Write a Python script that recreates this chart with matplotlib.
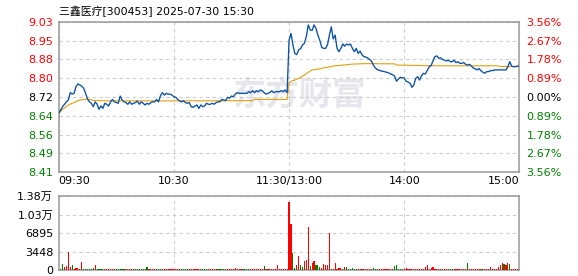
import matplotlib
matplotlib.use("Agg")
import matplotlib.pyplot as plt
import numpy as np

plt.rcParams['font.family'] = ['DejaVu Sans', 'Noto Sans CJK SC']

# price per minute, 09:30 .. 11:30 / 13:00 .. 15:00 (241 points)
price = [
    8.652, 8.666, 8.680, 8.690, 8.700, 8.708, 8.738, 8.732, 8.735, 8.763,
    8.774, 8.770, 8.765, 8.756, 8.735, 8.712, 8.700, 8.694, 8.680, 8.700,
    8.690, 8.669, 8.683, 8.673, 8.694, 8.690, 8.683, 8.700, 8.710, 8.700,
    8.697, 8.694, 8.724, 8.708, 8.700, 8.697, 8.690, 8.700, 8.690, 8.694,
    8.697, 8.703, 8.690, 8.700, 8.694, 8.687, 8.694, 8.690, 8.697, 8.700,
    8.700, 8.710, 8.700, 8.725, 8.738, 8.728, 8.735, 8.732, 8.732, 8.728,
    8.721, 8.719, 8.710, 8.704, 8.700, 8.704, 8.697, 8.694, 8.697, 8.680,
    8.677, 8.683, 8.687, 8.673, 8.687, 8.680, 8.683, 8.694, 8.690, 8.690,
    8.694, 8.690, 8.697, 8.700, 8.700, 8.710, 8.708, 8.705, 8.719, 8.715,
    8.724, 8.721, 8.732, 8.738, 8.735, 8.735, 8.735, 8.735, 8.735, 8.742,
    8.738, 8.746, 8.738, 8.746, 8.742, 8.749, 8.746, 8.738, 8.732, 8.735,
    8.738, 8.746, 8.738, 8.742, 8.742, 8.742, 8.746, 8.742, 8.749, 8.738,
    8.955, 8.983, 8.935, 8.900, 8.895, 8.915, 8.920, 8.935, 8.942, 8.970,
    9.018, 8.997, 8.995, 9.018, 9.004, 8.976, 8.955, 8.925, 8.921, 8.921,
    8.935, 8.975, 9.010, 8.960, 8.976, 8.921, 8.907, 8.921, 8.939, 8.930,
    8.939, 8.935, 8.939, 8.921, 8.907, 8.921, 8.900, 8.910, 8.894, 8.887,
    8.885, 8.881, 8.875, 8.868, 8.850, 8.840, 8.833, 8.830, 8.828, 8.826,
    8.824, 8.822, 8.819, 8.815, 8.812, 8.806, 8.785, 8.795, 8.801, 8.800,
    8.798, 8.785, 8.782, 8.777, 8.760, 8.770, 8.797, 8.804, 8.790, 8.808,
    8.818, 8.815, 8.830, 8.845, 8.850, 8.870, 8.887, 8.890, 8.880, 8.882,
    8.875, 8.872, 8.869, 8.872, 8.866, 8.866, 8.872, 8.862, 8.866, 8.859,
    8.859, 8.862, 8.855, 8.852, 8.855, 8.848, 8.840, 8.836, 8.832, 8.838,
    8.828, 8.822, 8.818, 8.825, 8.825, 8.829, 8.829, 8.832, 8.832, 8.832,
    8.832, 8.832, 8.832, 8.832, 8.845, 8.866, 8.848, 8.845, 8.845, 8.848,
    8.848,
]

# average price line, read at turning points
avg_t = [0, 2, 5, 8, 10, 13, 16, 18, 25, 60, 101, 102, 119, 120, 121, 123,
         125, 128, 130, 132, 135, 138, 140, 143, 148, 153, 160, 175, 176,
         190, 200, 229, 230, 240]
avg_v = [8.652, 8.669, 8.687, 8.697, 8.705, 8.710, 8.710, 8.706, 8.704,
         8.704, 8.705, 8.710, 8.710, 8.780, 8.785, 8.790, 8.797, 8.811,
         8.822, 8.832, 8.835, 8.840, 8.843, 8.848, 8.852, 8.856, 8.858,
         8.857, 8.852, 8.850, 8.849, 8.849, 8.846, 8.846]

# volume per minute and up/down colour
vol = [
    1370, 180, 1120, 500, 800, 3420, 600, 935, 200, 300,
    310, 180, 1500, 180, 180, 180, 180, 180, 370, 935,
    180, 180, 180, 180, 180, 180, 180, 180, 180, 180,
    180, 180, 180, 180, 180, 180, 180, 180, 180, 180,
    180, 180, 180, 180, 180, 180, 560, 180, 180, 180,
    180, 180, 180, 180, 180, 180, 180, 180, 180, 180,
    180, 180, 180, 180, 180, 180, 180, 180, 180, 180,
    180, 180, 180, 180, 180, 180, 180, 180, 180, 180,
    180, 180, 180, 180, 180, 180, 180, 180, 180, 180,
    180, 180, 370, 180, 180, 180, 180, 180, 180, 180,
    180, 180, 180, 180, 180, 180, 180, 750, 180, 180,
    180, 180, 180, 180, 935, 180, 180, 180, 180, 180,
    12780, 8600, 3120, 300, 935, 2620, 935, 560, 1680, 1870,
    8040, 750, 1250, 1680, 935, 935, 560, 370, 1120, 935,
    935, 6920, 280, 180, 1310, 180, 370, 370, 180, 560,
    560, 180, 180, 370, 180, 180, 180, 180, 180, 180,
    180, 180, 180, 180, 370, 180, 180, 180, 180, 180,
    180, 180, 180, 180, 180, 750, 935, 180, 180, 180,
    180, 370, 180, 180, 180, 180, 180, 180, 180, 180,
    180, 560, 935, 180, 370, 560, 180, 180, 180, 180,
    180, 180, 180, 180, 180, 180, 180, 180, 180, 180,
    180, 180, 180, 1310, 180, 180, 180, 180, 180, 180,
    180, 180, 180, 180, 180, 560, 180, 180, 180, 560,
    935, 1310, 1120, 935, 1310, 1120, 180, 180, 180, 180,
    750,
]
vol_dir = ("gggrrrrgrrrrrggggggr" "ggggrrrrrrgggggrrrrr" "gggggggrrrrgggrrrrrr"
           "rrrrggggrrrrrrggggrr" "rrrgggggrrrrrrrrgggg" "rrrrrrrgrrrrrrrrrrrr"
           "rrggrrggrrrgrrgggrrr" "rrgrrrrrgrgggggrrgrr" "rrrrgggrrrrrrrrggggr"
           "rrrrrrrrrrrrrrrrrrrg" "rrrgggrrrrrrrgrrrrrr" "grrrrrrrrrrrgrrgrrrr" "r")

pre_close = 8.72
price_ticks = [8.41, 8.49, 8.56, 8.64, 8.72, 8.80, 8.88, 8.95, 9.03]
pct_labels = ["3.56%", "2.67%", "1.78%", "0.89%", "0.00%", "0.89%", "1.78%", "2.67%", "3.56%"]
time_labels = ["09:30", "10:30", "11:30/13:00", "14:00", "15:00"]
vol_ticks = [0, 3448, 6895, 10343, 13790]
vol_labels = ["0", "3448", "6895", "1.03万", "1.38万"]

RED = "#ff0000"
GREEN = "#008000"
FRAME = "#999999"
GRID = "#cccccc"

fig = plt.figure(figsize=(5.78, 2.76), dpi=100)
ax = fig.add_axes([0.1016, 0.3768, 0.797, 0.5435])
axv = fig.add_axes([0.1016, 0.0217, 0.797, 0.2671])

t = np.arange(len(price))

# main price panel
lo = pre_close - 0.31
hi = pre_close + 0.31
ax.set_xlim(0, 240)
ax.set_ylim(lo, hi)
ax.text(0.376, 0.507, "东方财富", transform=ax.transAxes, fontsize=24, fontweight="bold",
        color="#e6e6ec", ha="left", va="center", zorder=0,
        family=["Noto Sans CJK SC"])
ax.plot(avg_t, avg_v, color="#e0a010", lw=0.8, zorder=3)
ax.plot(t, price, color="#0a50a5", lw=0.95, zorder=4)

tick_pos = [lo + i * 0.62 / 8 for i in range(9)]
ax.set_yticks(tick_pos)
ax.set_yticklabels(["%.2f" % v for v in price_ticks])
ax.set_xticks([0, 60, 120, 180, 240])
ax.set_xticklabels(time_labels)
ax.tick_params(length=0, labelsize=8, pad=4)
ax.tick_params(axis="x", pad=3)
for i, lab in enumerate(ax.get_yticklabels()):
    lab.set_color(GREEN if i < 4 else ("black" if i == 4 else RED))
xl = ax.get_xticklabels()
xl[0].set_ha("left")
xl[-1].set_ha("right")
ax.grid(True, color=GRID, linestyle=(0, (3, 3)), lw=0.8)
for s in ax.spines.values():
    s.set_color(FRAME)
    s.set_linewidth(1.1)

ax2 = ax.twinx()
ax2.set_ylim(lo, hi)
ax2.set_yticks(tick_pos)
ax2.set_yticklabels(pct_labels[::-1])
ax2.tick_params(length=0, labelsize=8, pad=5)
for i, lab in enumerate(ax2.get_yticklabels()):
    lab.set_color(GREEN if i < 4 else ("black" if i == 4 else RED))
for s in ax2.spines.values():
    s.set_visible(False)

# volume panel
colors = [RED if c == "r" else GREEN for c in vol_dir]
axv.bar(t, vol, width=0.6, color=colors, zorder=3)
axv.set_xlim(0, 240)
axv.set_ylim(0, 13790)
axv.set_xticks([60, 120, 180])
axv.set_xticklabels([])
axv.set_yticks(vol_ticks)
axv.set_yticklabels(vol_labels)
axv.tick_params(length=0, labelsize=8, pad=4)
axv.grid(True, color=GRID, linestyle=(0, (3, 3)), lw=0.8)
for s in axv.spines.values():
    s.set_color(FRAME)
    s.set_linewidth(1.1)

fig.text(0.1016, 1 - 11 / 276, "三鑫医疗[300453] 2025-07-30 15:30", fontsize=7.8,
         va="center", ha="left")

fig.savefig("out.png", dpi=100)
